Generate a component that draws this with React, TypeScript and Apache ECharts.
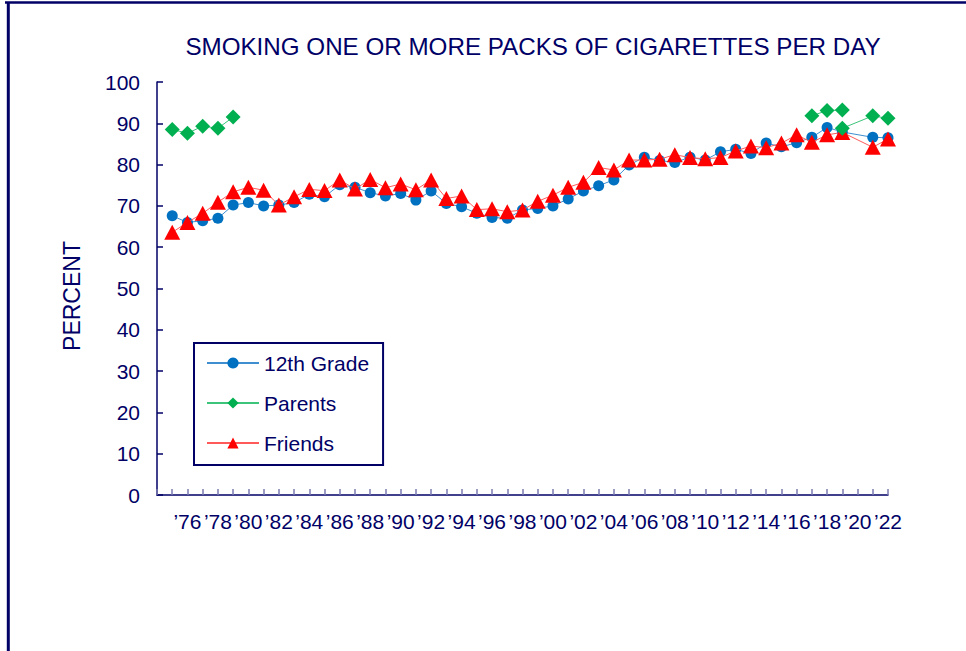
import React, { useEffect, useRef } from "react";
import * as echarts from "echarts";

const TITLE = "SMOKING ONE OR MORE PACKS OF CIGARETTES PER DAY";
const Y_NAME = "PERCENT";
const FIRST_CATEGORY = 1974; // empty leading slot on the axis
const YEARS: number[] = [
  1975, 1976, 1977, 1978, 1979, 1980, 1981, 1982, 1983, 1984, 1985, 1986,
  1987, 1988, 1989, 1990, 1991, 1992, 1993, 1994, 1995, 1996, 1997, 1998,
  1999, 2000, 2001, 2002, 2003, 2004, 2005, 2006, 2007, 2008, 2009, 2010,
  2011, 2012, 2013, 2014, 2015, 2016, 2017, 2018, 2019, 2020, 2021, 2022,
];
const GRADE12: (number | null)[] = [
  67.6, 66.0, 66.4, 67.0, 70.2, 70.8, 70.0, 70.2, 70.8, 72.8, 72.2, 75.1,
  74.5, 73.2, 72.4, 73.0, 71.4, 73.6, 70.6, 69.8, 68.2, 67.2, 67.0, 69.0,
  69.4, 70.0, 71.7, 73.6, 74.9, 76.3, 79.9, 81.8, 81.0, 80.5, 81.8, 81.1,
  83.1, 83.7, 82.7, 85.2, 84.3, 85.3, 86.6, 89.0, 87.9, null, 86.6, 86.5,
];
const FRIENDS: (number | null)[] = [
  63.6, 66.0, 68.2, 70.9, 73.4, 74.5, 73.8, 70.2, 72.2, 74.0, 73.7, 76.3,
  74.1, 76.4, 74.4, 75.3, 73.9, 76.3, 71.8, 72.4, 69.1, 69.3, 68.6, 69.0,
  71.1, 72.6, 74.5, 75.7, 79.3, 78.7, 81.1, 81.1, 81.3, 82.4, 81.7, 81.4,
  81.7, 83.3, 84.5, 84.1, 85.2, 87.2, 85.4, 87.2, 87.8, null, 84.2, 86.2,
];
const PARENTS: (number | null)[] = [
  88.5, 87.6, 89.3, 88.8, 91.5, null, null, null, null, null, null, null,
  null, null, null, null, null, null, null, null, null, null, null, null,
  null, null, null, null, null, null, null, null, null, null, null, null,
  null, null, null, null, null, null, 91.8, 93.1, 93.2, null, null, null,
];
const PARENTS_NEW: (number | null)[] = [
  null, null, null, null, null, null, null, null, null, null, null, null,
  null, null, null, null, null, null, null, null, null, null, null, null,
  null, null, null, null, null, null, null, null, null, null, null, null,
  null, null, null, null, null, null, null, null, 88.8, null, 91.8, 91.2,
];
const Y_TICKS = { min: 0, max: 100, interval: 10 };

const NAVY = "#000066";
const FONT = "'Liberation Sans', Arial, sans-serif";

export default function App() {
  const ref = useRef<HTMLDivElement>(null);
  useEffect(() => {
    if (!ref.current) return;
    const chart = echarts.init(ref.current, undefined, { renderer: "svg" });
    const categories = [String(FIRST_CATEGORY), ...YEARS.map(String)];
    const pad = (arr: (number | null)[]) => [null, ...arr];
    chart.setOption({
      animation: false,
      backgroundColor: "#ffffff",
      textStyle: { fontFamily: FONT },
      grid: { left: 157, right: 78, top: 82, bottom: 156, containLabel: false },
      graphic: [
        { type: "line", shape: { x1: 5, y1: 2.5, x2: 966, y2: 2.5 }, style: { stroke: NAVY, lineWidth: 2.5 } },
        { type: "line", shape: { x1: 8.3, y1: 2, x2: 8.3, y2: 651 }, style: { stroke: NAVY, lineWidth: 3 } },
        {
          type: "text",
          x: 533,
          y: 46,
          style: {
            text: TITLE,
            fontSize: 24.2,
            fontFamily: FONT,
            fill: NAVY,
            textAlign: "center",
            textVerticalAlign: "middle",
          },
        },
        {
          type: "text",
          x: 72,
          y: 296,
          rotation: Math.PI / 2,
          style: {
            text: Y_NAME,
            fontSize: 23,
            fontFamily: FONT,
            fill: NAVY,
            textAlign: "center",
            textVerticalAlign: "middle",
          },
        },
      ],
      legend: {
        data: ["12th Grade", "Parents", "Friends"],
        orient: "vertical",
        left: 194,
        top: 343,
        padding: [9, 14, 11, 12],
        itemGap: 18,
        itemWidth: 52,
        itemHeight: 14,
        borderColor: NAVY,
        borderWidth: 2,
        selectedMode: false,
        textStyle: { fontSize: 21, color: NAVY, fontFamily: FONT, lineHeight: 22 },
      },
      xAxis: {
        type: "category",
        data: categories,
        boundaryGap: false,
        axisLine: { lineStyle: { color: NAVY, width: 1.5 } },
        axisTick: { show: true, inside: true, length: 6, interval: 0, lineStyle: { color: "#7a7ab0", width: 1.5 } },
        axisLabel: {
          interval: (idx: number) => idx >= 2 && idx % 2 === 0,
          formatter: (v: string) => "\u2019" + v.slice(2),
          fontSize: 21,
          color: NAVY,
          fontFamily: FONT,
          margin: 16,
        },
        splitLine: { show: false },
      },
      yAxis: {
        type: "value",
        min: Y_TICKS.min,
        max: Y_TICKS.max,
        interval: Y_TICKS.interval,
        axisLine: { show: true, lineStyle: { color: NAVY, width: 1.5 } },
        axisTick: { show: true, inside: true, length: 6, lineStyle: { color: NAVY, width: 1.5 } },
        axisLabel: { fontSize: 21, color: NAVY, fontFamily: FONT, margin: 17 },
        splitLine: { show: false },
      },
      series: [
        {
          name: "12th Grade",
          type: "line",
          data: pad(GRADE12),
          connectNulls: true,
          showAllSymbol: true,
          symbol: "circle",
          symbolSize: 11,
          itemStyle: { color: "#0070c0" },
          lineStyle: { color: "#3f8fd0", width: 1 },
          z: 2,
        },
        {
          name: "Friends",
          type: "line",
          data: pad(FRIENDS),
          connectNulls: true,
          showAllSymbol: true,
          symbol: "triangle",
          symbolSize: [16, 15],
          itemStyle: { color: "#ff0000" },
          lineStyle: { color: "#ff5a5a", width: 1 },
          z: 3,
        },
        {
          name: "Parents",
          type: "line",
          data: pad(PARENTS),
          connectNulls: false,
          showAllSymbol: true,
          symbol: "diamond",
          symbolSize: 15,
          itemStyle: { color: "#00b050" },
          lineStyle: { color: "#3cc47a", width: 1 },
          z: 4,
        },
        {
          name: "Parents",
          type: "line",
          data: pad(PARENTS_NEW),
          connectNulls: true,
          showAllSymbol: true,
          symbol: "diamond",
          symbolSize: 15,
          itemStyle: { color: "#00b050" },
          lineStyle: { color: "#3cc47a", width: 1 },
          z: 4,
        },
      ],
    });
    return () => chart.dispose();
  }, []);
  return (
    <div
      ref={ref}
      style={{ position: "fixed", left: 0, top: 0, width: 966, height: 651 }}
    />
  );
}
